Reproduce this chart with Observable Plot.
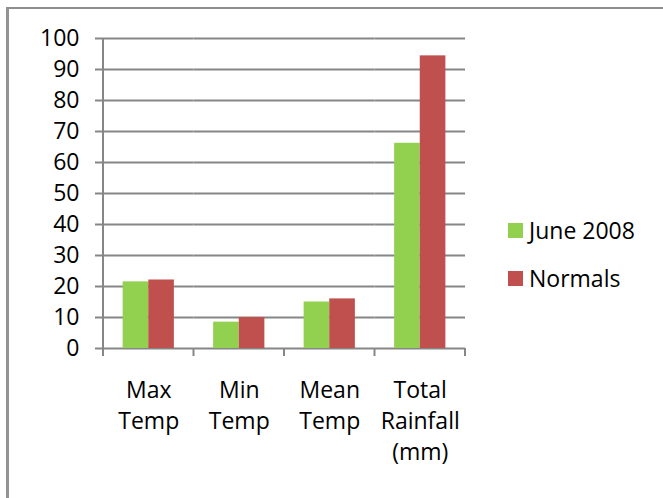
<!DOCTYPE html>
<html>
<head>
<meta charset="utf-8">
<script src="https://cdn.jsdelivr.net/npm/d3@7"></script>
<script src="https://cdn.jsdelivr.net/npm/@observablehq/plot@0.6"></script>
<style>
  html, body { margin: 0; padding: 0; background: #fff; }
  #wrap { position: relative; width: 663px; height: 498px; overflow: hidden; font-family: "Open Sans", Lato, sans-serif; }
  #wrap svg.chart { position: absolute; left: 0; top: 0; }
  #border { position: absolute; left: 6px; top: 7px; right: -10px; bottom: -10px; border-top: 2px solid #8e8e8e; border-left: 3px solid #939393; pointer-events: none; }
  #legend { position: absolute; left: 508px; top: 219px; font-size: 23px; color: #000; }
  #legend .item { display: flex; align-items: center; height: 22px; line-height: 22px; margin-bottom: 26px; white-space: nowrap; }
  #legend .sw { width: 15px; height: 15px; margin-right: 6px; flex: none; }
</style>
</head>
<body>
<div id="wrap"></div>
<script>
const categories = ["Max Temp", "Min Temp", "Mean Temp", "Total Rainfall (mm)"];
const categoryLabels = ["Max\nTemp", "Min\nTemp", "Mean\nTemp", "Total\nRainfall\n(mm)"];
const series = ["June 2008", "Normals"];
const june2008 = [21.5, 8.5, 15.0, 66.2];
const normals = [22.1, 10.0, 16.0, 94.4];
const yTicks = [0, 10, 20, 30, 40, 50, 60, 70, 80, 90, 100];
const colors = ["#92d050", "#c0504d"];

const data = categories.flatMap((c, i) => [
  {category: c, series: series[0], value: june2008[i]},
  {category: c, series: series[1], value: normals[i]}
]);
const labelOf = new Map(categories.map((c, i) => [c, categoryLabels[i]]));

const gray = "#868686";

const chart = Plot.plot({
  width: 663,
  height: 498,
  marginLeft: 103,
  marginRight: 198,
  marginTop: 38,
  marginBottom: 150,
  style: {fontFamily: "'Open Sans', Lato, sans-serif", fontSize: "23px", color: "#000", background: "transparent", overflow: "visible"},
  fx: {domain: categories, paddingInner: 0, paddingOuter: 0, round: false, label: null},
  x: {domain: series, paddingInner: 0, paddingOuter: 0.766, round: false, axis: null},
  y: {domain: [0, 100], label: null},
  color: {domain: series, range: colors},
  marks: [
    Plot.gridY(yTicks, {stroke: gray, strokeOpacity: 1, strokeWidth: 2}),
    Plot.axisY(yTicks, {tickSize: 8, tickPadding: 16, stroke: gray, strokeWidth: 2, strokeOpacity: 1, label: null, fontSize: 23, fill: "#000"}),
    Plot.barY(data, {fx: "category", x: "series", y: "value", fill: "series"}),
    Plot.axisFx({anchor: "bottom", tickSize: 0, tickPadding: 27, label: null, fontSize: 23, lineHeight: 1.36, fill: "#000", tickFormat: d => labelOf.get(d)})
  ]
});
chart.classList.add("chart");

// axis line and category boundary ticks, placed with the chart's own scales
const fxDesc = chart.scale("fx");
const yDesc = chart.scale("y");
const fx = d3.scaleBand()
  .domain(fxDesc.domain)
  .range(fxDesc.range)
  .paddingInner(fxDesc.paddingInner ?? 0)
  .paddingOuter(fxDesc.paddingOuter ?? 0)
  .align(fxDesc.align ?? 0.5);
const y = d3.scaleLinear().domain(yDesc.domain).range(yDesc.range);
const g = d3.select(chart).append("g").attr("stroke", gray).attr("stroke-width", 2);
const bounds = categories.map(c => fx(c)).concat([fx(categories[categories.length - 1]) + fx.bandwidth()]);
g.append("line").attr("x1", bounds[0]).attr("x2", bounds[0]).attr("y1", y(100)).attr("y2", y(0) + 8);
bounds.slice(1).forEach(b => {
  g.append("line").attr("x1", b).attr("x2", b).attr("y1", y(0)).attr("y2", y(0) + 8);
});

const wrap = document.getElementById("wrap");
wrap.appendChild(chart);

const border = document.createElement("div");
border.id = "border";
wrap.appendChild(border);

const cs = chart.scale("color");
const legend = document.createElement("div");
legend.id = "legend";
cs.domain.forEach((d, i) => {
  const item = document.createElement("div");
  item.className = "item";
  const sw = document.createElement("span");
  sw.className = "sw";
  sw.style.background = cs.range[i];
  const tx = document.createElement("span");
  tx.textContent = d;
  item.appendChild(sw);
  item.appendChild(tx);
  legend.appendChild(item);
});
wrap.appendChild(legend);
</script>
</body>
</html>
